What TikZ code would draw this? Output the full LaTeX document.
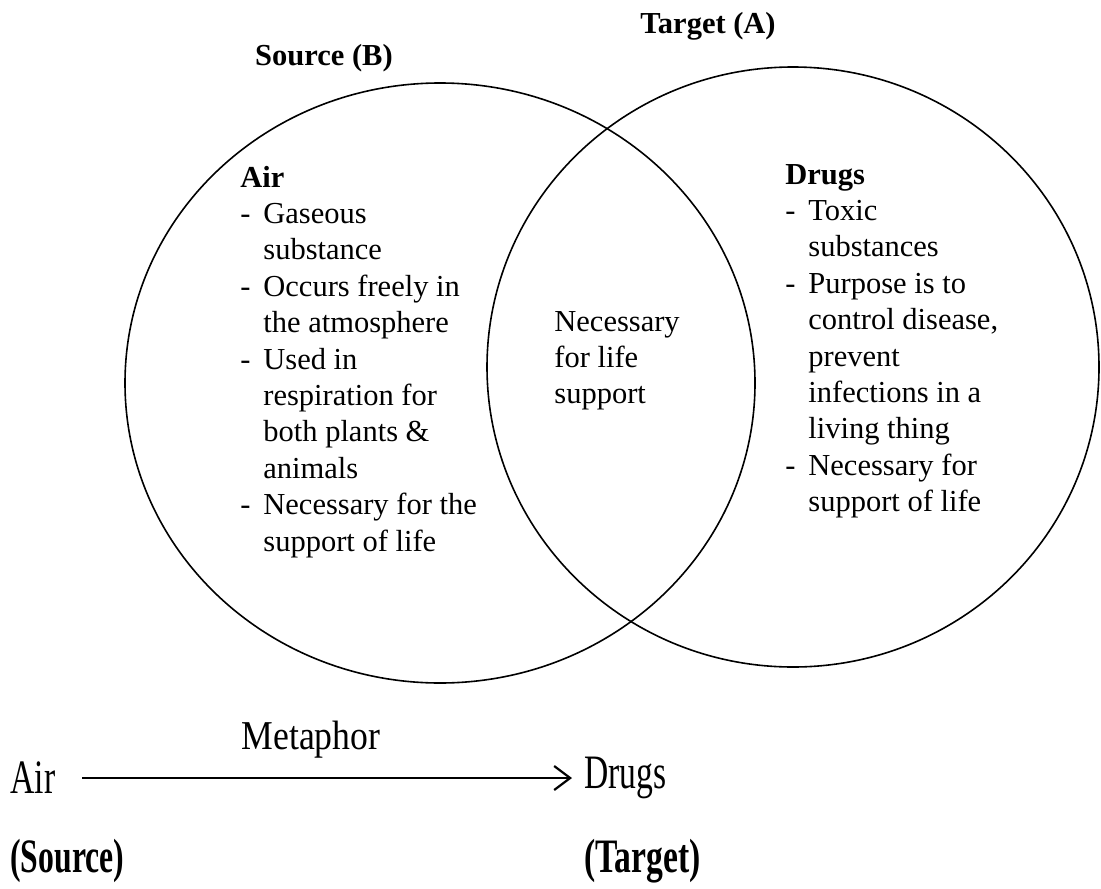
\documentclass[tikz,border=0pt]{standalone}
\usepackage{fontspec}
\usepackage{graphicx}
\setmainfont{Liberation Serif}
\usetikzlibrary{arrows.meta}

% body text: 12pt Times-like with single spacing
\newcommand{\bodyfont}{\fontsize{15.25}{18.2}\selectfont}
\newcommand{\dashcol}{\makebox[11.5pt][l]{-}}

\begin{document}
\begin{tikzpicture}[x=0.5pt,y=-0.5pt,
  ring/.style={draw=black, line width=0.8pt},
  title/.style={inner sep=0pt, font=\bodyfont\bfseries},
  block/.style={anchor=base west, inner sep=0pt},
  flow/.style={inner sep=0pt},
  mapping/.style={draw=black, line width=1.1pt, -{Straight Barb[length=8pt,width=12pt,line width=1.1pt]}}]

\useasboundingbox (0,0) rectangle (1101,888);

% the two overlapping circles
\draw[ring] (440,383) ellipse [x radius=315, y radius=300];
\draw[ring] (793,367) ellipse [x radius=306, y radius=300];

% headings above the circles
\node[title] (srcB) at (324,58) {Source (B)};
\node[title] (tgtA) at (708,26) {Target (A)};

% left circle: properties of air
\node[block] (airlist) at (240,187) {\bodyfont
  \begin{tabular}[t]{@{}l@{}l@{}}
  \multicolumn{2}{@{}l@{}}{\bfseries Air}\\
  \dashcol & Gaseous\\
          & substance\\
  \dashcol & Occurs freely in\\
          & the atmosphere\\
  \dashcol & Used in\\
          & respiration for\\
          & both plants \&\\
          & animals\\
  \dashcol & Necessary for the\\
          & support of life
  \end{tabular}};

% overlap: shared property
\node[block] (shared) at (554,331) {\bodyfont
  \begin{tabular}[t]{@{}l@{}}
  Necessary\\
  for life\\
  support
  \end{tabular}};

% right circle: properties of drugs
\node[block] (druglist) at (785,184) {\bodyfont
  \begin{tabular}[t]{@{}l@{}l@{}}
  \multicolumn{2}{@{}l@{}}{\bfseries Drugs}\\
  \dashcol & Toxic\\
          & substances\\
  \dashcol & Purpose is to\\
          & control disease,\\
          & prevent\\
          & infections in a\\
          & living thing\\
  \dashcol & Necessary for\\
          & support of life
  \end{tabular}};

% metaphor mapping below
\node[flow, anchor=west] (air) at (10,778) {\fontsize{24}{28}\selectfont\scalebox{0.7}[1]{Air}};
\node[flow, anchor=west] (drugs) at (584,778) {\fontsize{24}{28}\selectfont\scalebox{0.7}[1]{Drugs}};
\draw[mapping] (82,778) coordinate (mstart) -- (drugs.west -| 572,0) coordinate (mend);
\node[flow] (metaphor) at (311,740) {\fontsize{20.5}{24}\selectfont\scalebox{0.87}[1]{Metaphor}};
\node[flow, anchor=west] (source) at (10,861) {\fontsize{24}{28}\selectfont\bfseries\scalebox{0.66}[1]{(Source)}};
\node[flow, anchor=west] (target) at (584,861) {\fontsize{24}{28}\selectfont\bfseries\scalebox{0.7}[1]{(Target)}};

\end{tikzpicture}
\end{document}
